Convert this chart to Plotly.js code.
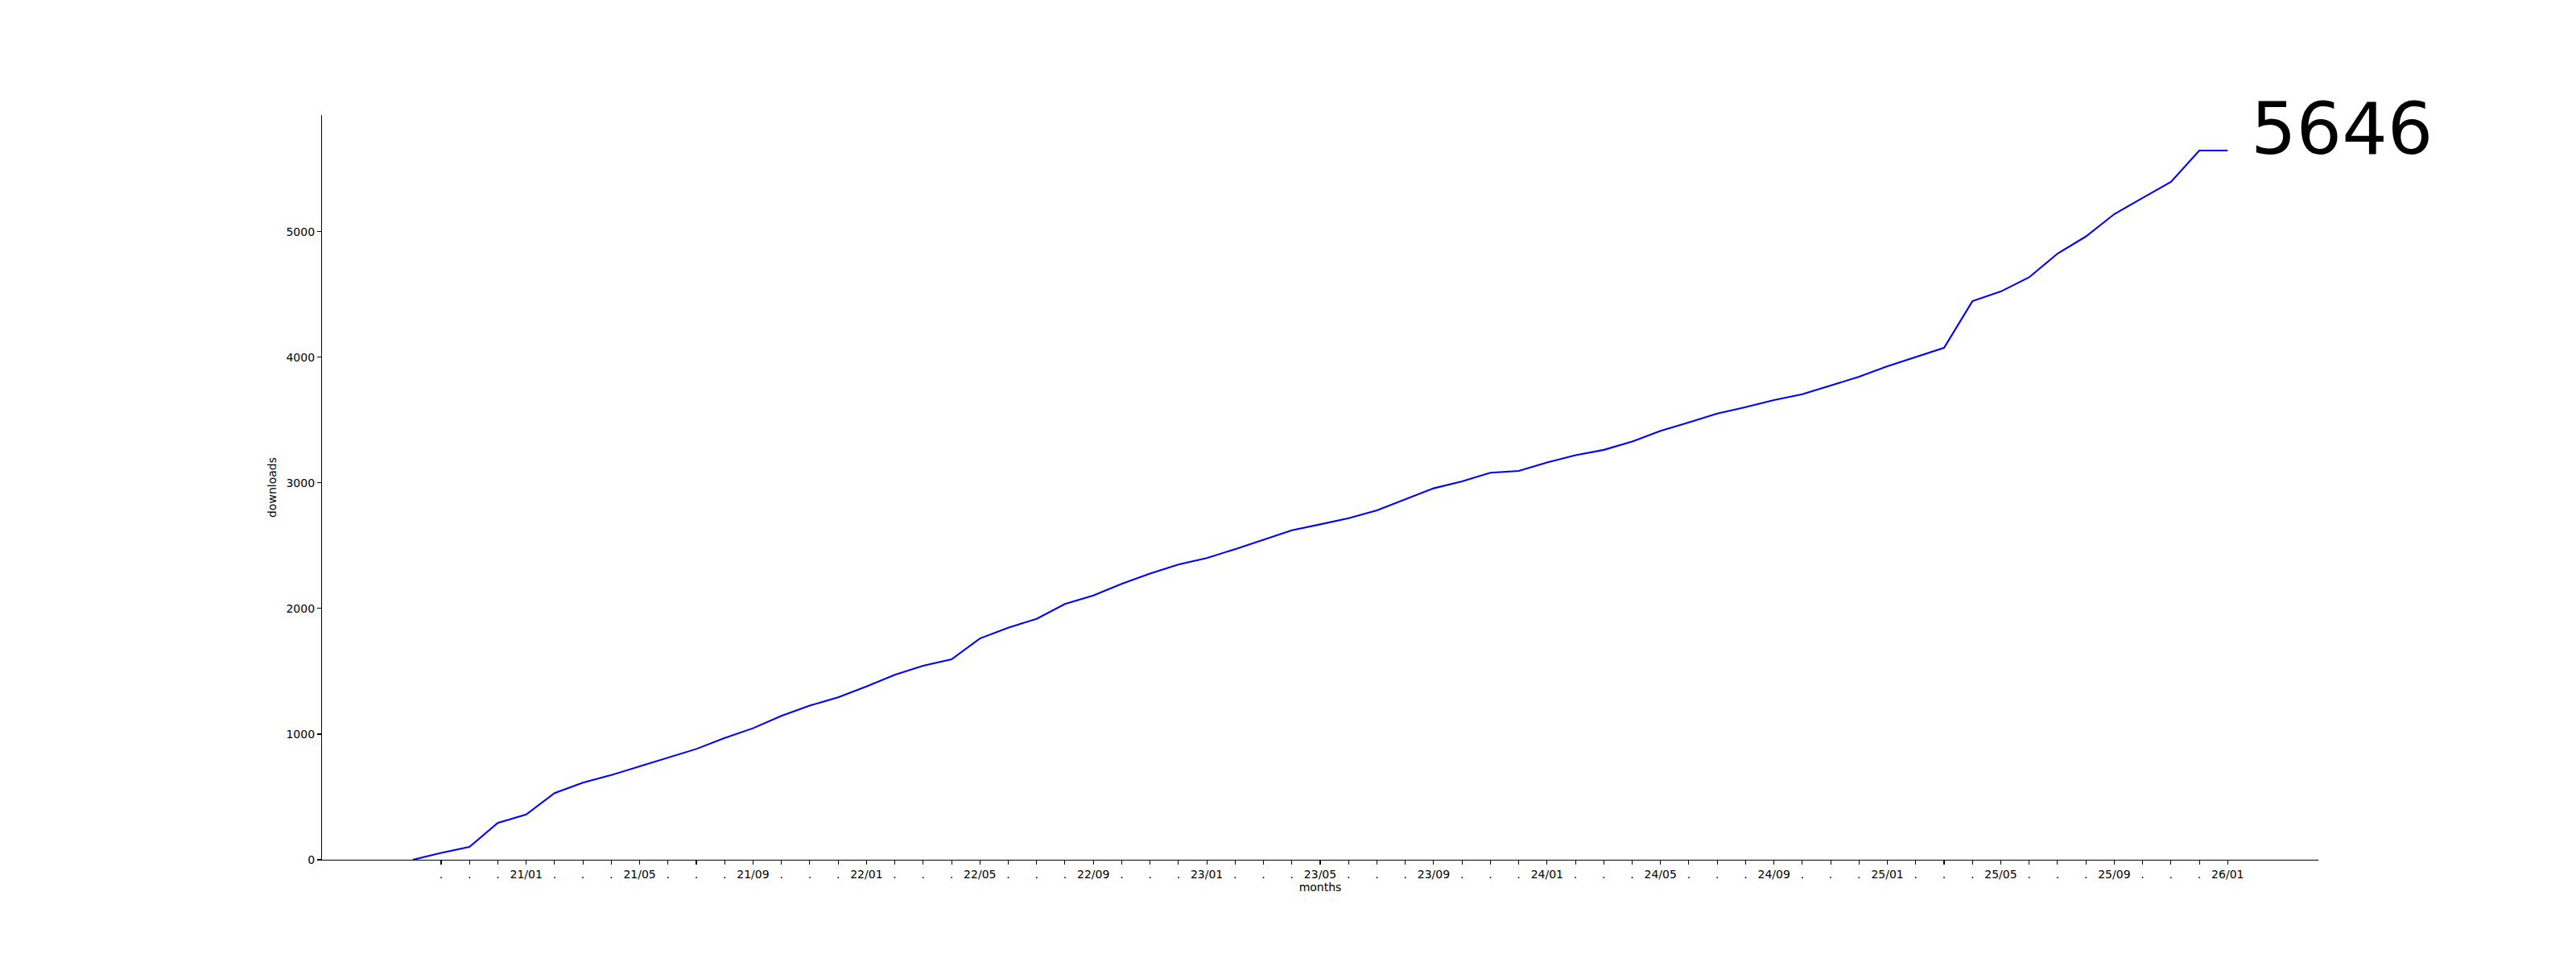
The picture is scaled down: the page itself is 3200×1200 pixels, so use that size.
<!DOCTYPE html>
<html>
<head>
<meta charset="utf-8">
<script src="https://cdn.plot.ly/plotly-3.0.1.min.js"></script>
<style>
  html, body { margin: 0; padding: 0; background: #ffffff; }
  #chart { width: 3200px; height: 1200px; }
</style>
</head>
<body>
<div id="chart"></div>
<script>
// Months (YY/MM), from 20/09 to 26/01
const months = [
  "20/09","20/10","20/11","20/12",
  "21/01","21/02","21/03","21/04","21/05","21/06","21/07","21/08","21/09","21/10","21/11","21/12",
  "22/01","22/02","22/03","22/04","22/05","22/06","22/07","22/08","22/09","22/10","22/11","22/12",
  "23/01","23/02","23/03","23/04","23/05","23/06","23/07","23/08","23/09","23/10","23/11","23/12",
  "24/01","24/02","24/03","24/04","24/05","24/06","24/07","24/08","24/09","24/10","24/11","24/12",
  "25/01","25/02","25/03","25/04","25/05","25/06","25/07","25/08","25/09","25/10","25/11","25/12",
  "26/01"
];

// Cumulative downloads per month
const downloads = [
  0, 54, 103, 293,
  360, 531, 614, 674, 743, 814, 882, 970, 1047, 1145, 1227, 1293,
  1380, 1473, 1544, 1595, 1762, 1848, 1918, 2036, 2104, 2197, 2278, 2351,
  2402, 2473, 2550, 2623, 2670, 2719, 2781, 2871, 2957, 3012, 3081, 3096,
  3163, 3220, 3263, 3329, 3415, 3481, 3552, 3603, 3660, 3706, 3774, 3845,
  3929, 4001, 4076, 4447, 4524, 4637, 4826, 4962, 5140, 5269, 5397, 5646,
  5646
];

// Labelled months (others show ".")
const labelledMonths = ["01", "05", "09"];

// Total shown at the end of the line
const totalLabel = "5646";

const tickVals = months.slice(1);
const tickText = tickVals.map(m => labelledMonths.includes(m.slice(3)) ? m : ".");

const n = months.length;
const xPad = 0.05 * (n - 1);
const yMax = Math.max(...downloads);

const font = { family: "DejaVu Sans", size: 14, color: "#000000" };

const trace = {
  type: "scatter",
  mode: "lines",
  x: months,
  y: downloads,
  line: { color: "#0000ff", width: 2.1 },
  hoverinfo: "x+y"
};

const layout = {
  width: 3200,
  height: 1200,
  paper_bgcolor: "#ffffff",
  plot_bgcolor: "#ffffff",
  showlegend: false,
  font: font,
  margin: { l: 400, r: 320, t: 143, b: 132, pad: 0 },
  xaxis: {
    type: "category",
    categoryorder: "array",
    categoryarray: months,
    range: [-xPad, (n - 1) + xPad],
    tickmode: "array",
    tickvals: tickVals,
    ticktext: tickText,
    ticks: "outside",
    ticklen: 5,
    tickwidth: 1.1,
    tickcolor: "#000000",
    tickangle: 0,
    showline: true,
    linecolor: "#000000",
    linewidth: 1.1,
    showgrid: false,
    zeroline: false,
    tickfont: font,
    automargin: false,
    title: { text: "months", font: font, standoff: 4 }
  },
  yaxis: {
    range: [0, yMax * 1.05],
    tickmode: "array",
    tickvals: [0, 1000, 2000, 3000, 4000, 5000],
    ticks: "outside",
    ticklen: 5,
    tickwidth: 1.1,
    tickcolor: "#000000",
    showline: true,
    linecolor: "#000000",
    linewidth: 1.1,
    showgrid: false,
    zeroline: false,
    tickfont: font,
    automargin: false,
    title: { text: "downloads", font: font, standoff: 8 }
  },
  annotations: [{
    x: n,
    y: downloads[n - 1],
    xref: "x",
    yref: "y",
    text: totalLabel,
    showarrow: false,
    xanchor: "left",
    yanchor: "bottom",
    xshift: -9,
    yshift: -27,
    font: { family: "DejaVu Sans", size: 89, color: "#000000" }
  }]
};

Plotly.newPlot("chart", [trace], layout, { displayModeBar: false, staticPlot: true });
</script>
</body>
</html>
